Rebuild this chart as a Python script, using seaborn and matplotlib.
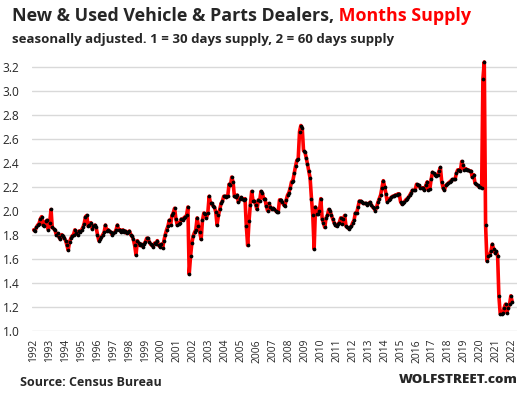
import matplotlib
matplotlib.use("Agg")
import matplotlib.pyplot as plt
import numpy as np
import pandas as pd
import seaborn as sns

# months supply (inventory / sales), monthly, Jan 1992 .. Jan 2022
supply_1992_1999 = [
    1.84, 1.83, 1.86, 1.88, 1.89, 1.93, 1.95, 1.88, 1.87, 1.91, 1.92, 1.84,  # 1992
    1.90, 2.01, 1.86, 1.85, 1.84, 1.80, 1.81, 1.78, 1.76, 1.80, 1.79, 1.77,  # 1993
    1.75, 1.71, 1.67, 1.74, 1.77, 1.79, 1.80, 1.84, 1.81, 1.80, 1.83, 1.82,  # 1994
    1.84, 1.86, 1.89, 1.95, 1.96, 1.87, 1.88, 1.90, 1.85, 1.87, 1.88, 1.86,  # 1995
    1.80, 1.75, 1.76, 1.78, 1.80, 1.82, 1.88, 1.83, 1.84, 1.83, 1.82, 1.80,  # 1996
    1.81, 1.82, 1.84, 1.88, 1.84, 1.84, 1.82, 1.84, 1.82, 1.83, 1.81, 1.82,  # 1997
    1.83, 1.80, 1.79, 1.76, 1.71, 1.63, 1.75, 1.73, 1.71, 1.72, 1.70, 1.72,  # 1998
    1.74, 1.77, 1.77, 1.74, 1.72, 1.71, 1.70, 1.73, 1.72, 1.75, 1.71, 1.70,  # 1999
]
supply_2000_2009 = [
    1.72, 1.69, 1.75, 1.80, 1.84, 1.87, 1.92, 1.88, 1.96, 1.98, 2.02, 1.93,  # 2000
    1.88, 1.89, 1.90, 1.93, 1.92, 1.94, 1.95, 1.96, 2.03, 1.47, 1.62, 1.73,  # 2001
    1.79, 1.82, 1.84, 1.94, 1.87, 1.82, 1.76, 1.92, 1.98, 1.97, 1.94, 1.98,  # 2002
    2.12, 2.06, 2.06, 2.04, 2.03, 1.99, 1.88, 1.96, 2.01, 2.06, 2.08, 2.12,  # 2003
    2.12, 2.11, 2.12, 2.22, 2.21, 2.28, 2.24, 2.12, 2.11, 2.13, 2.07, 2.10,  # 2004
    2.11, 2.10, 2.09, 2.10, 1.87, 1.71, 1.91, 2.05, 2.16, 2.08, 2.08, 2.05,  # 2005
    2.01, 2.09, 2.08, 2.16, 2.15, 2.10, 2.10, 2.04, 2.00, 2.06, 2.03, 2.01,  # 2006
    2.02, 2.01, 2.00, 1.99, 1.99, 2.09, 2.09, 2.07, 2.05, 2.04, 2.09, 2.13,  # 2007
    2.15, 2.19, 2.24, 2.25, 2.31, 2.37, 2.42, 2.43, 2.66, 2.71, 2.69, 2.50,  # 2008
    2.49, 2.44, 2.39, 2.33, 2.27, 2.10, 1.96, 1.68, 2.03, 1.97, 1.97, 2.00,  # 2009
]
supply_2010_2022 = [
    2.10, 1.93, 1.90, 1.86, 1.94, 1.96, 2.01, 2.00, 1.96, 1.93, 1.90, 1.88,  # 2010
    1.87, 1.89, 1.90, 1.94, 1.89, 1.93, 1.96, 1.87, 1.86, 1.85, 1.86, 1.87,  # 2011
    1.90, 1.92, 1.98, 1.98, 2.03, 2.08, 2.08, 2.07, 2.06, 2.06, 2.06, 2.05,  # 2012
    2.06, 2.07, 2.05, 2.03, 2.02, 2.00, 2.03, 2.07, 2.10, 2.13, 2.19, 2.25,  # 2013
    2.20, 2.14, 2.075, 2.09, 2.10, 2.11, 2.12, 2.12, 2.13, 2.13, 2.14, 2.14,  # 2014
    2.075, 2.055, 2.06, 2.075, 2.09, 2.10, 2.11, 2.13, 2.15, 2.17, 2.17, 2.17,  # 2015
    2.22, 2.21, 2.21, 2.19, 2.19, 2.19, 2.17, 2.21, 2.24, 2.17, 2.18, 2.26,  # 2016
    2.32, 2.31, 2.30, 2.29, 2.30, 2.33, 2.36, 2.24, 2.19, 2.17, 2.21, 2.22,  # 2017
    2.23, 2.24, 2.25, 2.26, 2.26, 2.26, 2.31, 2.34, 2.34, 2.33, 2.41, 2.38,  # 2018
    2.34, 2.35, 2.34, 2.34, 2.33, 2.33, 2.28, 2.30, 2.23, 2.22, 2.21, 2.20,  # 2019
    2.20, 2.19, 3.10, 3.24, 1.88, 1.58, 1.62, 1.63, 1.66, 1.72, 1.68, 1.65,  # 2020
    1.66, 1.62, 1.29, 1.14, 1.14, 1.15, 1.19, 1.22, 1.15, 1.19, 1.22, 1.29,  # 2021
    1.24,                                                                    # 2022
]
year_ticks = list(range(1992, 2023))
y_ticks = [1.0, 1.2, 1.4, 1.6, 1.8, 2.0, 2.2, 2.4, 2.6, 2.8, 3.0, 3.2]

supply = supply_1992_1999 + supply_2000_2009 + supply_2010_2022
months = pd.date_range("1992-01-01", periods=len(supply), freq="MS")
df = pd.DataFrame({"month": months, "supply": supply})

sns.set_theme(style="white")
plt.rcParams["font.family"] = ["Open Sans", "DejaVu Sans"]

fig = plt.figure(figsize=(5.23, 3.94), dpi=100)
ax = fig.add_axes([0.061, 0.161, 0.928, 0.700])

sns.lineplot(data=df, x="month", y="supply", ax=ax, color="red", lw=2.6,
             marker="o", markersize=2.7, markerfacecolor="black",
             markeredgecolor="black", markeredgewidth=0, zorder=3)

ax.set_ylim(1.0, 3.3)
ax.set_yticks(y_ticks)
ax.set_yticklabels([f"{v:.1f}" for v in y_ticks], fontsize=8.6)
ax.set_xlim(months[0] - pd.Timedelta(days=41), months[-1] + pd.Timedelta(days=115))
ax.set_xticks([pd.Timestamp(f"{y}-01-01") for y in year_ticks])
ax.set_xticklabels([str(y) for y in year_ticks], rotation=90, fontsize=7.4)
ax.tick_params(axis="y", length=0, pad=9)
ax.tick_params(axis="x", length=0, pad=6)
ax.set_xlabel("")
ax.set_ylabel("")
ax.yaxis.grid(True, color="#d9d9d9", lw=1)
ax.xaxis.grid(False)
for s in ax.spines.values():
    s.set_visible(False)

t1 = fig.text(12 / 523, 1 - 16 / 394, "New & Used Vehicle & Parts Dealers,",
              fontsize=12.9, fontweight="bold", va="center", ha="left")
ax.annotate(" Months Supply", xy=(1, 0.5), xycoords=t1, va="center", ha="left",
            fontsize=12.9, fontweight="bold", color="red", annotation_clip=False)
fig.text(12 / 523, 1 - 40 / 394,
         "seasonally adjusted. 1 = 30 days supply, 2 = 60 days supply",
         fontsize=9.5, fontweight="bold", va="center", ha="left")
fig.text(20 / 523, 1 - 382 / 394, "Source: Census Bureau",
         fontsize=9.0, fontweight="bold", va="center", ha="left")
fig.text(518 / 523, 1 - 380 / 394, "WOLFSTREET.com",
         fontsize=9.6, fontweight="heavy", va="center", ha="right")

fig.savefig("out.png", dpi=100)
